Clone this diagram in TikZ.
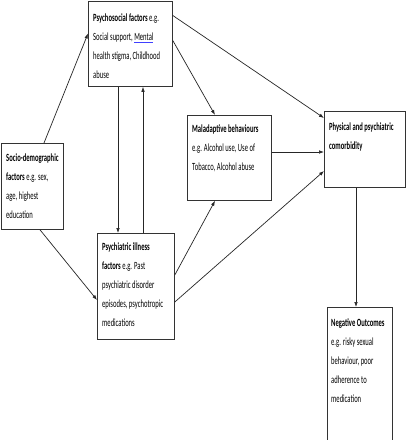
\documentclass[tikz,border=0pt]{standalone}
\usepackage{fontspec}
\setmainfont{Carlito}[FakeStretch=0.6]
\usetikzlibrary{arrows.meta}
\tikzset{
  box/.style={draw=black!80, line width=0.8pt, rectangle, inner sep=0pt, anchor=north west},
  txt/.style={inner sep=0pt, anchor=base west, font=\fontsize{11}{19}\selectfont},
  arr/.style={draw=black!85, line width=0.7pt, -{Latex[length=5pt,width=3.6pt]}}
}
\newcommand{\tb}[1]{\parbox[t]{90pt}{\raggedright #1}}
\begin{document}
\begin{tikzpicture}[x=1pt,y=-1pt]
\useasboundingbox (0,0) rectangle (408,440);
\fill[white] (0,0) rectangle (408,440);
% boxes
\node[box, minimum width=84pt, minimum height=85.5pt] (psy) at (88,0.5) {};
\node[box, minimum width=62pt, minimum height=86pt] (soc) at (1,143) {};
\node[box, minimum width=77pt, minimum height=106pt] (pill) at (97,233) {};
\node[box, minimum width=84pt, minimum height=85pt] (mal) at (187,115) {};
\node[box, minimum width=81pt, minimum height=76pt] (phys) at (324,111) {};
\node[box, minimum width=65pt, minimum height=150pt] (neg) at (327,307) {};
% texts
\node[txt] (psyt) at ([xshift=5pt,yshift=-21pt]psy.north west)
  {\tb{\textbf{Psychosocial factors} e.g.\\ Social support, {\color{blue!75}\underline{\color{black}Mental}}\\ health stigma, Childhood\\ abuse}};
\node[txt] (soct) at ([xshift=5pt,yshift=-18pt]soc.north west)
  {\tb{\textbf{Socio-demographic}\\ \textbf{factors} e.g. sex,\\ age, highest\\ education}};
\node[txt] (pillt) at ([xshift=5pt,yshift=-17pt]pill.north west)
  {\tb{\textbf{Psychiatric illness}\\ \textbf{factors} e.g. Past\\ psychiatric disorder\\ episodes, psychotropic\\ medications}};
\node[txt] (malt) at ([xshift=5pt,yshift=-17pt]mal.north west)
  {\tb{\textbf{Maladaptive behaviours}\\ e.g. Alcohol use, Use of\\ Tobacco, Alcohol abuse}};
\node[txt] (physt) at ([xshift=5pt,yshift=-19pt]phys.north west)
  {\tb{\textbf{Physical and psychiatric}\\ \textbf{comorbidity}}};
\node[txt] (negt) at ([xshift=4pt,yshift=-19pt]neg.north west)
  {\tb{\textbf{Negative Outcomes}\\ e.g. risky sexual\\ behaviour, poor\\ adherence to\\ medication}};
% connectors
\draw[arr] ([xshift=43pt]soc.north west) -- ([yshift=-33pt]psy.north west);
\draw[arr] ([xshift=39pt]soc.south west) -- ([yshift=-67pt]pill.north west);
\draw[arr] ([xshift=30pt]psy.south west) -- ([xshift=21pt]pill.north west);
\draw[arr] ([xshift=46pt]pill.north west) -- ([xshift=55pt]psy.south west);
\draw[arr] ([yshift=-15pt]psy.north east) -- ([yshift=-7pt]phys.north west);
\draw[arr] ([yshift=-40pt]psy.north east) -- ([xshift=28pt]mal.north west);
\draw[arr] ([yshift=-37pt]mal.north east) -- ([yshift=-41pt]phys.north west);
\draw[arr] ([yshift=-42pt]pill.north east) -- ([xshift=28pt]mal.south west);
\draw[arr] ([yshift=-69pt]pill.north east) -- ([yshift=-60pt]phys.north west);
\draw[arr] ([xshift=32pt]phys.south west) -- ([xshift=29pt]neg.north west);
\end{tikzpicture}
\end{document}
